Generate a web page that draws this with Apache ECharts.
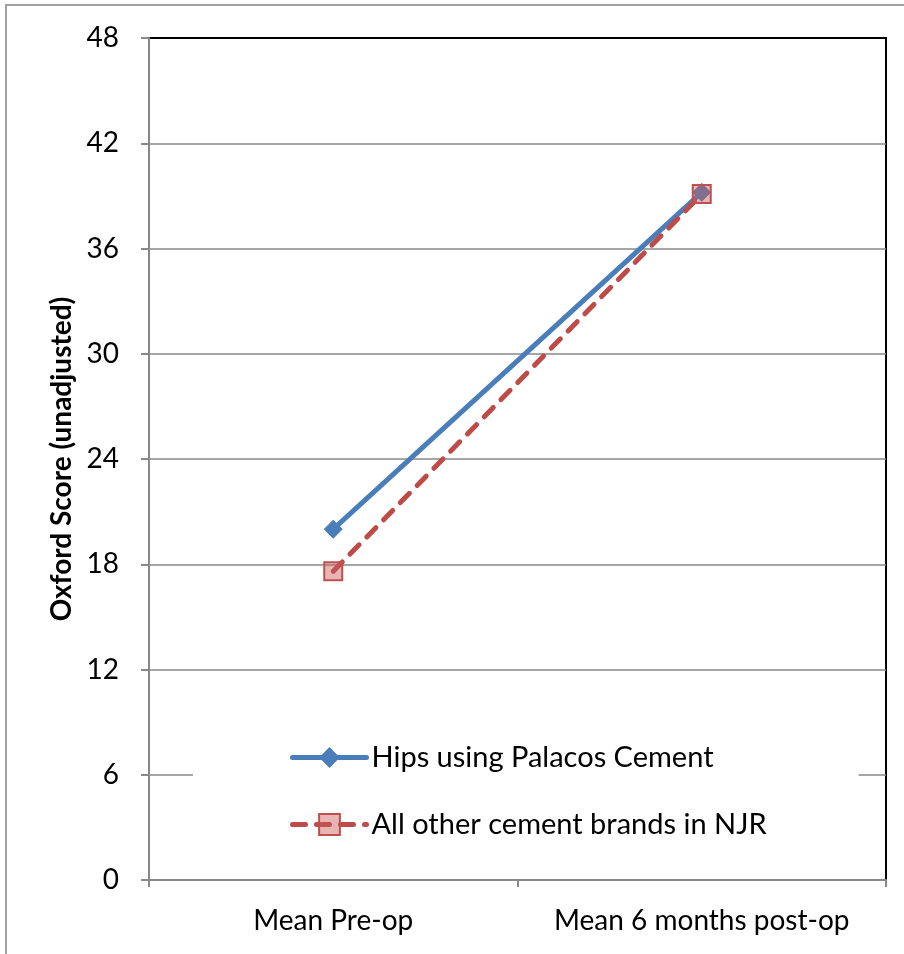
<!DOCTYPE html>
<html lang="en">
<head>
  <meta charset="UTF-8">
  <title>Oxford Score - Palacos Cement</title>
  <script src="https://cdn.jsdelivr.net/npm/echarts@6.0.0/dist/echarts.min.js"></script>
  <style>
    html, body { margin: 0; padding: 0; background: #fff; }
  </style>
</head>
<body>

  <div id="main" style="width: 904px;height:954px;"></div>

  <script type="text/javascript">
    // Data
    const categories = ['Mean Pre-op', 'Mean 6 months post-op'];
    const palacosScores = [20.0, 39.2];
    const otherScores = [17.6, 39.1];
    const seriesNames = ['Hips using Palacos Cement', 'All other cement brands in NJR'];

    const font = 'Lato, "Open Sans", sans-serif';

    let myChart = echarts.init(document.getElementById('main'));

    let options = {
      animation: false,
      textStyle: { fontFamily: font },
      // outer chart frame
      graphic: [{
        type: 'rect',
        shape: { x: 6, y: 5, width: 1000, height: 1000 },
        style: { fill: 'none', stroke: '#a0a0a0', lineWidth: 2 },
        silent: true
      }],
      grid: {
        left: 149, right: 18, top: 38, bottom: 74,
        show: true,
        borderColor: '#000',
        borderWidth: 2,
        backgroundColor: 'transparent'
      },
      legend: {
        orient: 'vertical',
        left: 193,
        top: 727,
        padding: [16, 92, 16, 97],
        itemGap: 38,
        itemWidth: 74,
        itemHeight: 26,
        backgroundColor: '#fff',
        lineStyle: { width: 5 },
        textStyle: { fontSize: 29, color: '#000', fontFamily: font },
        data: seriesNames
      },
      xAxis: {
        type: 'category',
        data: categories,
        boundaryGap: true,
        axisLine: { lineStyle: { color: '#888', width: 2 } },
        axisTick: { show: true, length: 7, lineStyle: { color: '#888', width: 2 } },
        axisLabel: { fontSize: 28, color: '#000', margin: 27, interval: 0, hideOverlap: false }
      },
      yAxis: {
        type: 'value',
        min: 0,
        max: 48,
        interval: 6,
        name: 'Oxford Score (unadjusted)',
        nameLocation: 'middle',
        nameGap: 72,
        nameTextStyle: { fontSize: 28, fontWeight: 'bold', color: '#000' },
        axisLine: { show: true, lineStyle: { color: '#888', width: 2 } },
        axisTick: { show: true, length: 8, lineStyle: { color: '#888', width: 2 } },
        axisLabel: { fontSize: 28, color: '#000', margin: 30 },
        splitLine: { show: true, showMaxLine: false, lineStyle: { color: '#888', width: 1.5 } }
      },
      series: [{
        name: seriesNames[0],
        type: 'line',
        data: palacosScores,
        symbol: 'diamond',
        symbolSize: 18,
        lineStyle: { color: '#4A7EBB', width: 5, cap: 'round' },
        itemStyle: { color: '#4A7EBB', borderColor: '#4A7EBB' },
        z: 2
      }, {
        name: seriesNames[1],
        type: 'line',
        data: otherScores,
        symbol: 'rect',
        symbolSize: 18,
        lineStyle: { color: '#BE4B48', width: 5, type: [13, 11], cap: 'round' },
        itemStyle: { color: 'rgba(200, 90, 88, 0.45)', borderColor: '#C0504D', borderWidth: 2 },
        z: 3
      }]
    };

    myChart.setOption(options);
  </script>
</body>
</html>
